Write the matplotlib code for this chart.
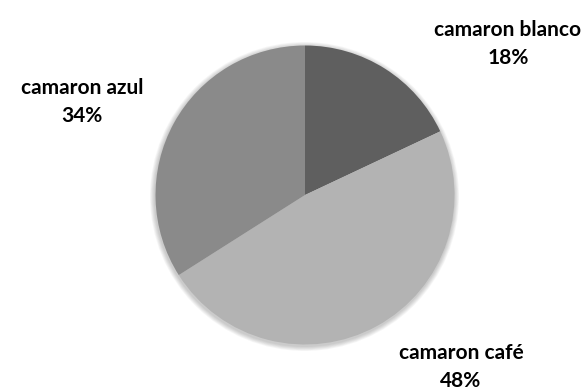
# Grafico de pastel: produccion de camaron por especie
import matplotlib.pyplot as plt
from matplotlib.patches import Circle

especies = ['camaron blanco', 'camaron café', 'camaron azul']
porcentajes = [18, 48, 34]
colores = ['#5f5f5f', '#b3b3b3', '#8a8a8a']

fig = plt.figure(figsize=(5.87, 3.88), dpi=100)
ax = fig.add_axes([0, 0, 1, 1])

centro = (305, 193)
radio = 149.5

# sombra suave alrededor del pastel
for i in range(6):
    ax.add_patch(Circle((centro[0] - 0.5, centro[1] - 1.5), radio + 1 + i * 0.8,
                        color='black', alpha=0.035, lw=0, zorder=0))

ax.pie(porcentajes, colors=colores, startangle=90, counterclock=False,
       center=centro, radius=radio, wedgeprops={'linewidth': 0},
       frame=True)
ax.set_xlim(0, 587)
ax.set_ylim(0, 388)
ax.set_aspect('equal')
ax.axis('off')

# etiquetas con nombre y porcentaje
posiciones = [(508, 344), (461, 21), (82, 286)]
for nombre, pct, (x, y) in zip(especies, porcentajes, posiciones):
    ax.text(x, y, f'{nombre}\n{pct}%', ha='center', va='center',
            fontsize=15, fontweight='bold', family='Lato',
            linespacing=1.55, color='black')

plt.savefig('out.png', dpi=100)
